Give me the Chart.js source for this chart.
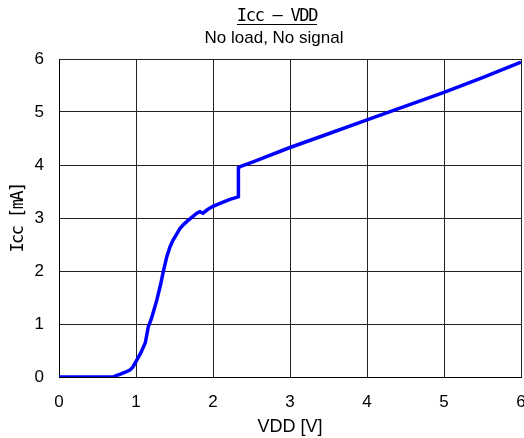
<!DOCTYPE html>
<html><head><meta charset="utf-8">
<script src="https://cdn.jsdelivr.net/npm/chart.js@4"></script>
<style>html,body{margin:0;padding:0;background:#fff}#wrap{width:524px;height:438px}</style>
</head><body><div id="wrap"><canvas id="c" width="524" height="438"></canvas></div>
<script>
// Data
const vdd = [0, 0.70, 0.75, 0.79, 0.86, 0.92, 0.96, 1.01, 1.06, 1.12, 1.16, 1.20, 1.27, 1.32, 1.35, 1.40, 1.44, 1.48, 1.53, 1.57, 1.62, 1.68, 1.74, 1.79, 1.83, 1.87, 1.93, 2.00, 2.10, 2.22, 2.33, 2.33, 2.37, 2.52, 3.00, 3.50, 4.00, 4.50, 5.00, 5.50, 6.00];
const icc = [0, 0, 0.03, 0.05, 0.09, 0.13, 0.19, 0.32, 0.45, 0.64, 0.95, 1.10, 1.45, 1.75, 1.96, 2.27, 2.45, 2.58, 2.70, 2.80, 2.88, 2.96, 3.03, 3.09, 3.12, 3.09, 3.16, 3.22, 3.28, 3.35, 3.40, 3.95, 3.98, 4.06, 4.33, 4.59, 4.85, 5.11, 5.37, 5.65, 5.94];
const xTicks = [0, 1, 2, 3, 4, 5, 6];
const yTicks = [0, 1, 2, 3, 4, 5, 6];
const titleText = 'Icc – VDD';
const subtitleText = 'No load, No signal';
const xTitle = 'VDD [V]';
const yTitle = 'Icc [mA]';

const points = vdd.map((v, i) => ({x: v, y: icc[i]}));

const titlePlugin = {
  id: 'titles',
  afterLayout(chart) {
    // tighten letter spacing for the gothic-style y axis title
    const s = chart.scales.y;
    if (s && !s._spacedTitle) {
      const orig = s.drawTitle;
      s.drawTitle = function () {
        const ctx = this.ctx;
        ctx.save();
        ctx.letterSpacing = '-1.6px';
        orig.call(this);
        ctx.restore();
      };
      s._spacedTitle = true;
    }
  },
  afterDraw(chart) {
    const ctx = chart.ctx;
    ctx.save();
    ctx.fillStyle = '#000';
    ctx.textAlign = 'center';
    ctx.textBaseline = 'middle';
    ctx.font = '17px "DejaVu Sans Mono"';
    ctx.letterSpacing = '-1.3px';
    const cx = 277;
    ctx.fillText(titleText, cx, 17);
    const w = ctx.measureText(titleText).width;
    ctx.fillRect(Math.round(cx - w / 2), 24, Math.round(w), 1);
    ctx.letterSpacing = '0px';
    ctx.font = '17px "Liberation Sans"';
    ctx.fillText(subtitleText, 274, 38);
    ctx.restore();
  }
};

new Chart(document.getElementById('c'), {
  type: 'scatter',
  data: {
    datasets: [{
      data: points,
      showLine: true,
      borderColor: '#0000ff',
      borderWidth: 3.5,
      pointRadius: 0,
      tension: 0,
      fill: false
    }]
  },
  options: {
    responsive: false,
    animation: false,
    devicePixelRatio: 1,
    layout: {padding: {top: 59, right: 3, left: 0, bottom: 0}},
    plugins: {legend: {display: false}, tooltip: {enabled: false}, title: {display: false}},
    scales: {
      x: {
        type: 'linear', min: 0, max: 6,
        afterBuildTicks: s => { s.ticks = xTicks.map(v => ({value: v})); },
        afterFit: s => { s.height = 61; s.paddingLeft = 0; s.paddingRight = 0; },
        grid: {color: '#222', lineWidth: 1, drawTicks: false},
        border: {color: '#000', width: 1},
        ticks: {color: '#000', padding: 15, font: {family: 'Liberation Sans', size: 17}, maxRotation: 0},
        title: {display: true, text: xTitle, color: '#000', font: {family: 'Liberation Sans', size: 18}, padding: {top: 0, bottom: 0}}
      },
      y: {
        type: 'linear', min: 0, max: 6,
        afterBuildTicks: s => { s.ticks = yTicks.map(v => ({value: v})); },
        afterFit: s => { s.width = 59; s.paddingTop = 0; s.paddingBottom = 0; },
        grid: {color: '#222', lineWidth: 1, drawTicks: false},
        border: {color: '#000', width: 1},
        ticks: {color: '#000', padding: 15, font: {family: 'Liberation Sans', size: 17}},
        title: {display: true, text: yTitle, color: '#000', font: {family: 'DejaVu Sans Mono', size: 17}, padding: {top: 8, bottom: 0}}
      }
    }
  },
  plugins: [titlePlugin]
});
</script>
</body></html>
